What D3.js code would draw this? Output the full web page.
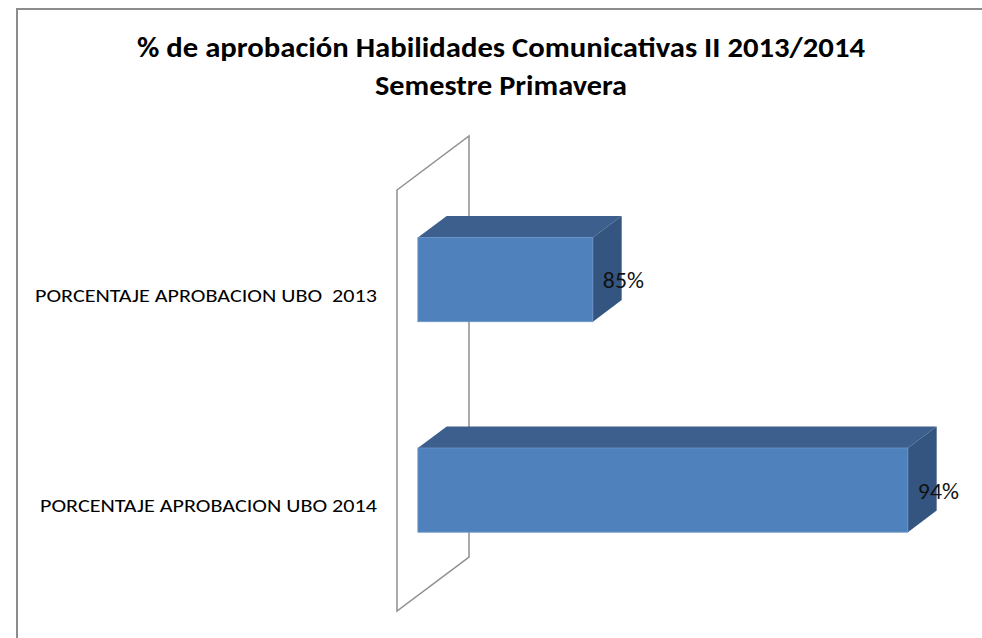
<!DOCTYPE html>
<html>
<head>
<meta charset="utf-8">
<script src="https://cdn.jsdelivr.net/npm/d3@7"></script>
<style>
  body { margin: 0; background: #fff; }
  svg { display: block; }
</style>
</head>
<body>
<div id="chart"></div>
<script>
// data
var categories = ['PORCENTAJE APROBACION UBO  2013', 'PORCENTAJE APROBACION UBO 2014'];
var values = [85, 94];
var valueLabels = ['85%', '94%'];
var titleLines = ['% de aprobación Habilidades Comunicativas II 2013/2014', 'Semestre Primavera'];

var W = 982, H = 638;
var font = "Carlito, 'Open Sans', sans-serif";

// 3D look: depth of the wall and where the bars sit inside it
var depth = {dx: 72, dy: -54};
var barZ0 = 0.29, barZ1 = 0.69;

var x = d3.scaleLinear()
    .domain([80, 95])
    .range([397, 922]);

var y = d3.scaleBand()
    .domain(categories)
    .range([190, 611])
    .paddingInner(0.6)
    .paddingOuter(0.3);

// project a point with depth z (0 = front of wall, 1 = back)
function px(v, z) { return x(v) + z * depth.dx; }
function py(yy, z) { return yy + z * depth.dy; }

var svg = d3.select("#chart")
    .append("svg")
    .attr("width", W)
    .attr("height", H);

// chart area border (only left and top show in the picture)
svg.append("path")
    .attr("d", "M17," + H + " L17,9 L" + W + ",9")
    .attr("fill", "none")
    .attr("stroke", "#8c8c8c")
    .attr("stroke-width", 2);

// title
svg.append("g")
    .selectAll("text")
    .data(titleLines)
    .enter()
    .append("text")
    .attr("x", 501)
    .attr("y", (d, i) => 57 + i * 38)
    .attr("text-anchor", "middle")
    .attr("font-family", font)
    .attr("font-weight", "bold")
    .attr("font-size", "28px")
    .attr("textLength", (d, i) => i == 0 ? 728 : 252)
    .attr("lengthAdjust", "spacingAndGlyphs")
    .attr("fill", "#000")
    .text(d => d);

// side wall outline
var x0 = x.domain()[0];
var yTop = y.range()[0], yBot = y.range()[1];
svg.append("path")
    .attr("d", "M" + px(x0, 0) + "," + py(yTop, 0)
        + " L" + px(x0, 1) + "," + py(yTop, 1)
        + " L" + px(x0, 1) + "," + py(yBot, 1)
        + " L" + px(x0, 0) + "," + py(yBot, 0) + " Z")
    .attr("fill", "none")
    .attr("stroke", "#8f8f8f")
    .attr("stroke-width", 1.5);

// category labels
svg.append("g")
    .selectAll("text")
    .data(categories)
    .enter()
    .append("text")
    .attr("x", 377)
    .attr("y", d => y(d) + y.bandwidth() / 2)
    .attr("dy", "0.35em")
    .attr("text-anchor", "end")
    .attr("font-family", font)
    .attr("font-size", "19px")
    .attr("textLength", (d, i) => i == 0 ? 342 : 337)
    .attr("lengthAdjust", "spacingAndGlyphs")
    .attr("fill", "#000")
    .style("white-space", "pre")
    .text(d => d);

// bars
var bars = svg.append("g")
    .selectAll("g")
    .data(values)
    .enter()
    .append("g");

function face(pts) {
    return "M" + pts.map(p => p.join(",")).join(" L") + " Z";
}

// top face
bars.append("path")
    .attr("d", (d, i) => {
        var yy = y(categories[i]);
        return face([[px(x0, barZ0), py(yy, barZ0)], [px(x0, barZ1), py(yy, barZ1)],
            [px(d, barZ1), py(yy, barZ1)], [px(d, barZ0), py(yy, barZ0)]]);
    })
    .attr("fill", "#3c5f8d");

// right side face
bars.append("path")
    .attr("d", (d, i) => {
        var yy = y(categories[i]), yb = yy + y.bandwidth();
        return face([[px(d, barZ0), py(yy, barZ0)], [px(d, barZ1), py(yy, barZ1)],
            [px(d, barZ1), py(yb, barZ1)], [px(d, barZ0), py(yb, barZ0)]]);
    })
    .attr("fill", "#345580");

// front face
bars.append("rect")
    .attr("x", px(x0, barZ0))
    .attr("y", (d, i) => py(y(categories[i]), barZ0))
    .attr("width", d => px(d, barZ0) - px(x0, barZ0))
    .attr("height", y.bandwidth())
    .attr("fill", "#4f81bd")
    .attr("stroke", "#6a93c6")
    .attr("stroke-width", 0.8);

// value labels
bars.append("text")
    .attr("x", d => px(d, barZ0) + 10)
    .attr("y", (d, i) => py(y(categories[i]) + y.bandwidth() / 2, barZ0) + 1)
    .attr("dy", "0.35em")
    .attr("font-family", font)
    .attr("font-size", "22px")
    .attr("textLength", 41)
    .attr("lengthAdjust", "spacingAndGlyphs")
    .attr("fill", "#111")
    .text((d, i) => valueLabels[i]);
</script>
</body>
</html>
